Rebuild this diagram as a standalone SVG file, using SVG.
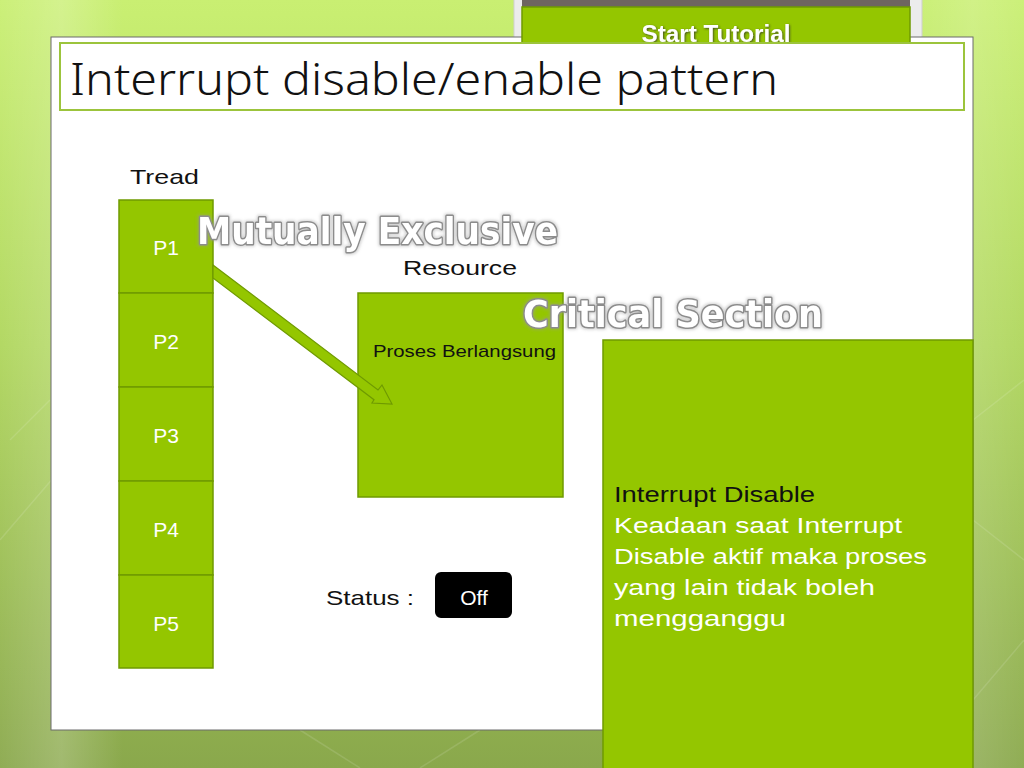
<svg xmlns="http://www.w3.org/2000/svg" width="1024" height="768" viewBox="0 0 1024 768">
<defs>
<linearGradient id="bg" x1="0" y1="0" x2="0" y2="1">
<stop offset="0" stop-color="#c9ef72"/>
<stop offset="0.45" stop-color="#afd65c"/>
<stop offset="1" stop-color="#8aa84c"/>
</linearGradient>
<linearGradient id="bgh" x1="0" y1="0" x2="1" y2="0">
<stop offset="0" stop-color="#ffffff" stop-opacity="0.05"/>
<stop offset="0.06" stop-color="#ffffff" stop-opacity="0.2"/>
<stop offset="0.12" stop-color="#ffffff" stop-opacity="0"/>
<stop offset="0.88" stop-color="#ffffff" stop-opacity="0"/>
<stop offset="0.95" stop-color="#ffffff" stop-opacity="0.15"/>
<stop offset="1" stop-color="#ffffff" stop-opacity="0.05"/>
</linearGradient>
<filter id="glow" x="-10%" y="-40%" width="120%" height="180%">
<feMorphology in="SourceAlpha" operator="dilate" radius="1" result="d"/>
<feGaussianBlur in="d" stdDeviation="1.5" result="b"/>
<feFlood flood-color="#9a9a9a" flood-opacity="0.45"/>
<feComposite operator="in" in2="b"/>
<feMerge><feMergeNode/><feMergeNode in="SourceGraphic"/></feMerge>
</filter>
<filter id="shadow" x="-10%" y="-30%" width="120%" height="160%">
<feDropShadow dx="1" dy="1" stdDeviation="1" flood-color="#333333" flood-opacity="0.8"/>
</filter>
<style>
.box{fill:#94c600;stroke:#6f9a00;stroke-width:1.5}
.txt{font-family:"Liberation Sans","DejaVu Sans",sans-serif}
.plabel{font-family:"Liberation Sans",sans-serif;font-size:21px;fill:#ffffff;text-anchor:middle}
.dark{font-family:"Liberation Sans",sans-serif;font-size:21px;fill:#111111}
.wordart{font-family:"DejaVu Sans","Liberation Sans",sans-serif;font-weight:bold;fill:#ffffff;stroke:#8c8c8c;stroke-width:3;paint-order:stroke fill;stroke-linejoin:round}
.white{font-family:"Liberation Sans",sans-serif;font-size:22px;fill:#ffffff}
</style>
</defs>

<!-- background -->
<rect x="0" y="0" width="1024" height="768" fill="url(#bg)"/>
<rect x="0" y="0" width="1024" height="768" fill="url(#bgh)"/>
<g stroke="#ffffff" stroke-opacity="0.12" stroke-width="1.5" fill="none">
<path d="M0 540 L60 470 L60 720"/>
<path d="M10 440 L50 400"/>
<path d="M973 420 L1024 380"/>
<path d="M973 520 L1024 560"/>
<path d="M973 700 L1024 640"/>
<path d="M420 768 L480 730"/>
<path d="M300 730 L360 768"/>
</g>

<!-- Start Tutorial tab frame -->
<g id="start-tutorial">
<rect x="514" y="-2" width="408" height="44" fill="#ececec" stroke="#cfcfcf" stroke-width="1"/>
<rect x="522" y="0" width="388" height="8" fill="#6e6560"/>
</g>

<!-- slide panel -->
<rect x="51" y="37" width="922" height="693" fill="#ffffff" stroke="#6b6b6b" stroke-width="1"/>

<g id="start-tutorial-button">
<rect x="522" y="7" width="388" height="48" fill="#94c600" stroke="#6f9a00" stroke-width="1.5"/>
<text x="716" y="42" class="txt" font-size="23" font-weight="bold" fill="#ffffff" text-anchor="middle" filter="url(#shadow)" textLength="149" lengthAdjust="spacingAndGlyphs">Start Tutorial</text>
</g>

<!-- title -->
<g id="title">
<rect x="60" y="43" width="904" height="67" fill="#ffffff" stroke="#9cc43c" stroke-width="2"/>
<text x="70" y="95" font-family="'Noto Sans','Liberation Sans',sans-serif" font-weight="300" font-size="44" fill="#111111" textLength="708" lengthAdjust="spacingAndGlyphs">Interrupt disable/enable pattern</text>
</g>

<text x="130" y="184" class="dark" textLength="69" lengthAdjust="spacingAndGlyphs">Tread</text>

<g id="P1"><rect x="119" y="200" width="94" height="93" class="box"/><text x="166" y="255" class="plabel">P1</text></g>
<g id="P2"><rect x="119" y="293" width="94" height="94" class="box"/><text x="166" y="349" class="plabel">P2</text></g>
<g id="P3"><rect x="119" y="387" width="94" height="94" class="box"/><text x="166" y="443" class="plabel">P3</text></g>
<g id="P4"><rect x="119" y="481" width="94" height="94" class="box"/><text x="166" y="537" class="plabel">P4</text></g>
<g id="P5"><rect x="119" y="575" width="94" height="93" class="box"/><text x="166" y="631" class="plabel">P5</text></g>

<g id="resource">
<text x="403" y="275" class="dark" textLength="114" lengthAdjust="spacingAndGlyphs">Resource</text>
<rect x="358" y="293" width="205" height="204" class="box"/>
<text x="373" y="357" class="txt" font-size="17" fill="#111111" textLength="183" lengthAdjust="spacingAndGlyphs">Proses Berlangsung</text>
</g>

<!-- connector -->
<g id="connectors">
<polygon points="213,265 378,390 382,385 392,404 372,403 374,399.7 213,278" fill="#94c600" stroke="#6f9a00" stroke-width="1.2" stroke-linejoin="miter"/>
</g>

<text x="197" y="244" class="wordart" font-size="38" filter="url(#glow)" textLength="361" lengthAdjust="spacingAndGlyphs">Mutually Exclusive</text>
<text x="523" y="327" class="wordart" font-size="37" filter="url(#glow)" textLength="300" lengthAdjust="spacingAndGlyphs">Critical Section</text>

<g id="status">
<text x="326" y="605" class="dark" textLength="88" lengthAdjust="spacingAndGlyphs">Status :</text>
<rect x="435" y="572" width="77" height="46" rx="6" fill="#000000"/>
<text x="474" y="605" class="plabel">Off</text>
</g>

<g id="interrupt-disable">
<rect x="603" y="340" width="370" height="440" class="box"/>
<text x="614" y="502" class="txt" font-size="22" fill="#111111" textLength="201" lengthAdjust="spacingAndGlyphs">Interrupt Disable</text>
<text x="614" y="533" class="white" textLength="288" lengthAdjust="spacingAndGlyphs">Keadaan saat Interrupt</text>
<text x="614" y="564" class="white" textLength="313" lengthAdjust="spacingAndGlyphs">Disable aktif maka proses</text>
<text x="614" y="595" class="white" textLength="261" lengthAdjust="spacingAndGlyphs">yang lain tidak boleh</text>
<text x="614" y="626" class="white" textLength="172" lengthAdjust="spacingAndGlyphs">mengganggu</text>
</g>
</svg>
